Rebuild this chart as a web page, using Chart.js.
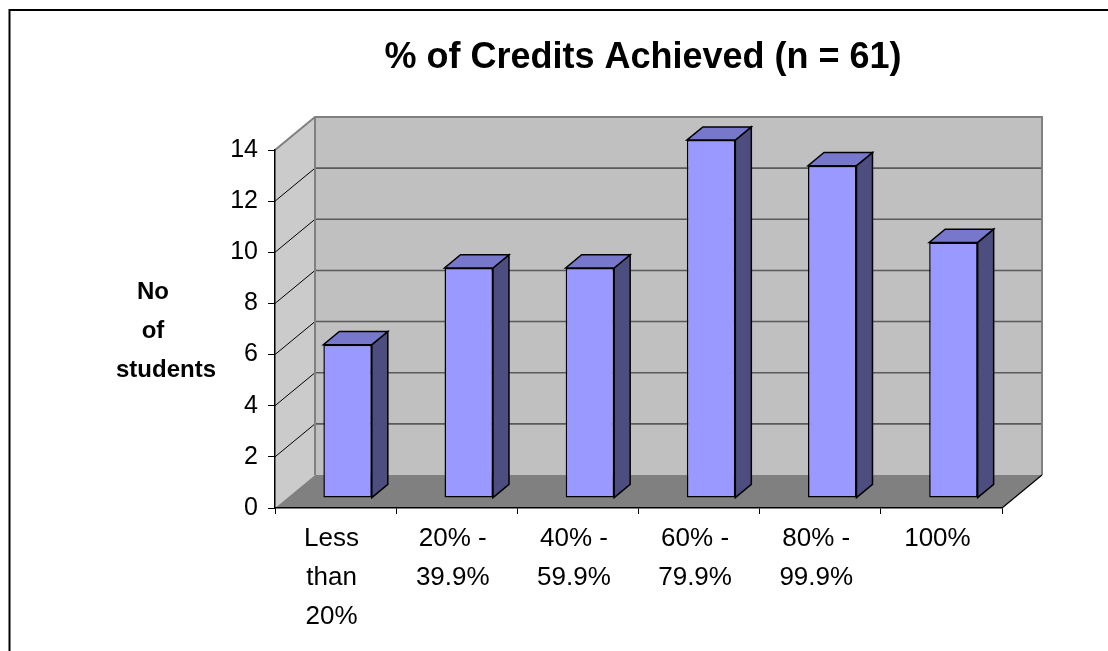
<!DOCTYPE html>
<html lang="en">
<head>
<meta charset="UTF-8">
<title>% of Credits Achieved</title>
<script src="https://cdn.jsdelivr.net/npm/chart.js"></script>
<style>
    html, body {
        margin: 0;
        padding: 0;
        background: #fff;
    }
    #chart {
        display: block;
    }
</style>
</head>
<body>
<canvas id="chart" width="1108" height="651"></canvas>
<script>
const chartTitle = '% of Credits Achieved (n = 61)';
const yAxisTitle = ['No', 'of', 'students'];
const categories = [
    ['Less', 'than', '20%'],
    ['20% -', '39.9%'],
    ['40% -', '59.9%'],
    ['60% -', '79.9%'],
    ['80% -', '99.9%'],
    ['100%']
];
const students = [6, 9, 9, 14, 13, 10];
const yMin = 0;
const yMax = 14;
const yStep = 2;

// depth of the 3d box in px, and where the bars sit inside it
const DEPTH_X = 40;
const DEPTH_Y = -33;
const BAR_FRONT = 0.3;
const BAR_DEPTH = 0.4;
const FONT = 'Arial, "Liberation Sans", sans-serif';

Chart.defaults.color = '#000';
Chart.defaults.font.family = FONT;

function poly(ctx, pts, fill, stroke, lw) {
    ctx.beginPath();
    ctx.moveTo(pts[0][0], pts[0][1]);
    for (let i = 1; i < pts.length; i++) ctx.lineTo(pts[i][0], pts[i][1]);
    ctx.closePath();
    if (fill) {
        ctx.fillStyle = fill;
        ctx.fill();
    }
    if (stroke) {
        ctx.strokeStyle = stroke;
        ctx.lineWidth = lw || 1;
        ctx.stroke();
    }
}

function seg(ctx, x1, y1, x2, y2, color, lw) {
    ctx.beginPath();
    ctx.moveTo(x1, y1);
    ctx.lineTo(x2, y2);
    ctx.strokeStyle = color;
    ctx.lineWidth = lw;
    ctx.stroke();
}

const box3d = {
    id: 'box3d',
    beforeDraw(chart) {
        const ctx = chart.ctx;
        const { left, right, top, bottom } = chart.chartArea;
        const yScale = chart.scales.y;
        const bl = left + DEPTH_X, br = right + DEPTH_X;
        const bt = top + DEPTH_Y, bb = bottom + DEPTH_Y;
        ctx.save();

        // frame around everything
        ctx.strokeStyle = '#000';
        ctx.lineWidth = 2;
        ctx.strokeRect(9.5, 10, chart.width + 20, chart.height + 20);

        // walls and floor
        poly(ctx, [[left, top], [bl, bt], [bl, bb], [left, bottom]], '#cbcbcb');
        ctx.fillStyle = '#c0c0c0';
        ctx.fillRect(bl, bt, br - bl, bb - bt);
        poly(ctx, [[left, bottom], [bl, bb], [br, bb], [right, bottom]], '#808080');

        // gridlines on the back wall, diagonals on the side wall
        yScale.ticks.forEach(t => {
            if (t.value === yMin || t.value === yMax) return;
            const py = yScale.getPixelForValue(t.value);
            seg(ctx, bl, py + DEPTH_Y, br, py + DEPTH_Y, '#5a5a5a', 1.6);
            seg(ctx, left, py, bl, py + DEPTH_Y, '#000', 1);
        });

        // wall edges
        ctx.beginPath();
        ctx.moveTo(left, top);
        ctx.lineTo(bl, bt);
        ctx.lineTo(br, bt);
        ctx.lineTo(br, bb);
        ctx.moveTo(bl, bt);
        ctx.lineTo(bl, bb);
        ctx.strokeStyle = '#808080';
        ctx.lineWidth = 2;
        ctx.stroke();
        seg(ctx, right, bottom, br, bb, '#000', 1.2);

        // titles
        ctx.fillStyle = '#000';
        ctx.textBaseline = 'alphabetic';
        ctx.textAlign = 'center';
        ctx.font = 'bold 36px ' + FONT;
        ctx.fillText(chartTitle, 643, 68);
        ctx.font = 'bold 24px ' + FONT;
        const tx = [153, 153, 166];
        yAxisTitle.forEach((s, i) => ctx.fillText(s, tx[i], 299 + i * 39));
        ctx.restore();
    },
    beforeDatasetsDraw(chart) {
        chart.ctx.save();
        chart.ctx.translate(DEPTH_X * BAR_FRONT, DEPTH_Y * BAR_FRONT);
    },
    afterDatasetsDraw(chart) {
        const ctx = chart.ctx;
        const dx = DEPTH_X * BAR_DEPTH, dy = DEPTH_Y * BAR_DEPTH;
        chart.getDatasetMeta(0).data.forEach(bar => {
            const { x, y, base, width } = bar.getProps(['x', 'y', 'base', 'width'], true);
            const l = x - width / 2, r = x + width / 2;
            poly(ctx, [[r, y], [r + dx, y + dy], [r + dx, base + dy], [r, base]], '#4d4d80', '#000', 1.5);
            poly(ctx, [[l, y], [r, y], [r + dx, y + dy], [l + dx, y + dy]], '#7777cc', '#000', 1.5);
        });
        ctx.restore();
    }
};

new Chart(document.getElementById('chart'), {
    type: 'bar',
    data: {
        labels: categories,
        datasets: [{
            data: students,
            backgroundColor: '#9999ff',
            borderColor: '#000',
            borderWidth: 1.5,
            borderSkipped: false,
            barPercentage: 0.4,
            categoryPercentage: 1
        }]
    },
    options: {
        responsive: false,
        animation: false,
        events: [],
        layout: {
            padding: { top: 150, right: 106, bottom: 0, left: 0 }
        },
        plugins: {
            legend: { display: false },
            tooltip: { enabled: false },
            title: { display: false }
        },
        scales: {
            x: {
                afterFit(scale) { scale.height = 143; },
                grid: {
                    display: true,
                    drawOnChartArea: false,
                    tickLength: 6,
                    color: '#000',
                    offset: true
                },
                border: { display: true, color: '#000', width: 1.5 },
                ticks: {
                    autoSkip: false,
                    maxRotation: 0,
                    padding: 5,
                    labelOffset: -4,
                    font: { size: 26, lineHeight: 1.5 }
                }
            },
            y: {
                min: yMin,
                max: yMax,
                afterFit(scale) { scale.width = 275; },
                grid: {
                    display: true,
                    drawOnChartArea: false,
                    tickLength: 7,
                    color: '#000'
                },
                border: { display: true, color: '#000', width: 1.5 },
                ticks: {
                    stepSize: yStep,
                    padding: 10,
                    font: { size: 25 }
                }
            }
        }
    },
    plugins: [box3d]
});
</script>
</body>
</html>
